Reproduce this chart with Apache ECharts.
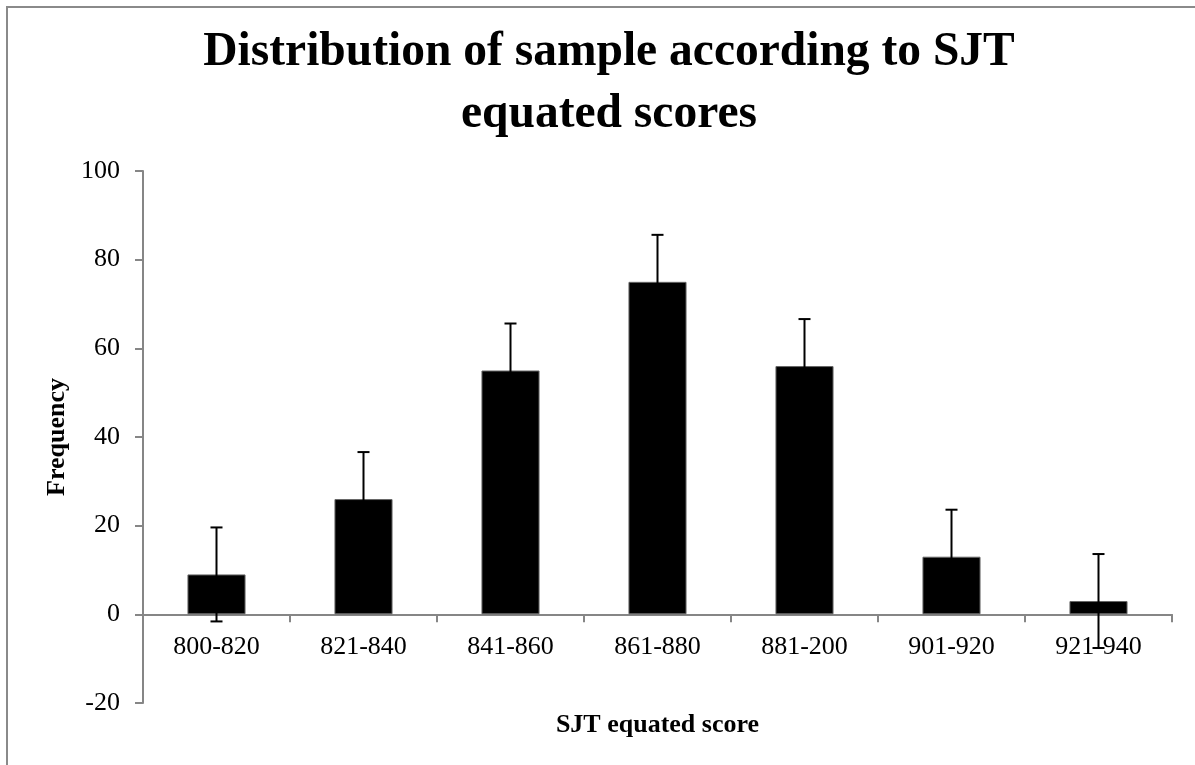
<!DOCTYPE html>
<html>
<head>
<meta charset="utf-8">
<script src="https://cdn.jsdelivr.net/npm/echarts@6/dist/echarts.min.js"></script>
<style>
html,body{margin:0;padding:0;background:#fff;}
#chart{width:1195px;height:765px;}
</style>
</head>
<body>
<div id="chart"></div>
<script>
var categories = ['800-820','821-840','841-860','861-880','881-200','901-920','921-940'];
var frequencies = [9, 26, 55, 75, 56, 13, 3];
var errors = [10.6, 10.6, 10.6, 10.6, 10.6, 10.6, 10.6];
var yTicks = { min: -20, max: 100, interval: 20 };

var errorData = frequencies.map(function (v, i) {
  return [i, v - errors[i], v + errors[i]];
});

var chart = echarts.init(document.getElementById('chart'));
var serif = '"Liberation Serif", "Times New Roman", serif';
var axisGray = '#868686';

chart.setOption({
  animation: false,
  backgroundColor: '#ffffff',
  title: {
    text: 'Distribution of sample according to SJT\nequated scores',
    left: 604,
    top: 17,
    textAlign: 'center',
    textStyle: {
      fontFamily: serif,
      fontWeight: 'bold',
      fontSize: 47.5,
      lineHeight: 62,
      color: '#000'
    }
  },
  grid: { left: 143, right: 23, top: 171, bottom: 62, containLabel: false, outerBoundsMode: 'none' },
  xAxis: {
    type: 'category',
    data: categories,
    axisLine: { show: true, onZero: true, lineStyle: { color: axisGray, width: 2 } },
    axisTick: { show: true, length: 8, lineStyle: { color: axisGray, width: 2 } },
    axisLabel: { fontFamily: serif, fontSize: 26, color: '#000', margin: -69 },
    splitLine: { show: false },
    name: 'SJT equated score',
    nameLocation: 'middle',
    nameGap: 9,
    nameTextStyle: { fontFamily: serif, fontWeight: 'bold', fontSize: 26, color: '#000', verticalAlign: 'top' }
  },
  yAxis: {
    type: 'value',
    min: yTicks.min,
    max: yTicks.max,
    interval: yTicks.interval,
    axisLine: { show: true, lineStyle: { color: axisGray, width: 2 } },
    axisTick: { show: true, length: 8, lineStyle: { color: axisGray, width: 2 } },
    axisLabel: { fontFamily: serif, fontSize: 26, color: '#000', margin: 23 },
    splitLine: { show: false },
    name: 'Frequency',
    nameLocation: 'middle',
    nameGap: 71,
    nameRotate: 90,
    nameTextStyle: { fontFamily: serif, fontWeight: 'bold', fontSize: 26, color: '#000' }
  },
  graphic: [
    {
      type: 'polyline',
      shape: { points: [[7, 765], [7, 7], [1195, 7]] },
      style: { stroke: '#8a8a8a', lineWidth: 2, fill: null }
    }
  ],
  series: [
    {
      type: 'bar',
      data: frequencies,
      barWidth: '39.5%',
      itemStyle: { color: '#000', borderColor: '#666', borderWidth: 1 },
      z: 2
    },
    {
      type: 'custom',
      data: errorData,
      z: 3,
      renderItem: function (params, api) {
        var x = api.value(0);
        var lo = api.coord([x, api.value(1)]);
        var hi = api.coord([x, api.value(2)]);
        var cap = 6;
        var style = { stroke: '#000', lineWidth: 2 };
        return {
          type: 'group',
          children: [
            { type: 'line', shape: { x1: lo[0], y1: lo[1], x2: hi[0], y2: hi[1] }, style: style },
            { type: 'line', shape: { x1: hi[0] - cap, y1: hi[1], x2: hi[0] + cap, y2: hi[1] }, style: style },
            { type: 'line', shape: { x1: lo[0] - cap, y1: lo[1], x2: lo[0] + cap, y2: lo[1] }, style: style }
          ]
        };
      }
    }
  ]
});
</script>
</body>
</html>
